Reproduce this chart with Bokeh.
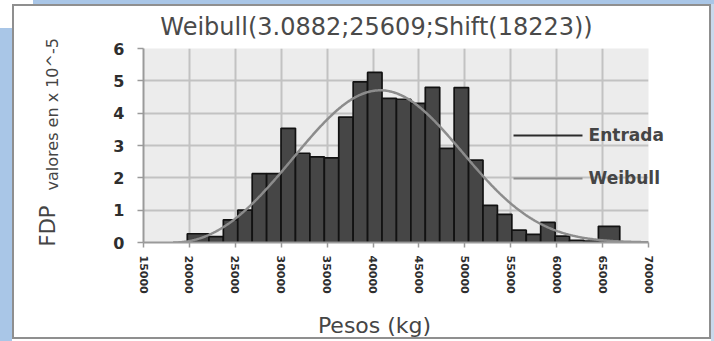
import numpy as np
from bokeh.plotting import figure
from bokeh.models import Range1d, FixedTicker, Label
from bokeh.embed import file_html
from bokeh.resources import INLINE

# Histogram of observed weights: bin edges (kg) and density (x 10^-5)
bin_edges = [19770, 22125, 23696, 25267, 26838, 28409, 29980, 31551, 33122,
             34693, 36264, 37835, 39406, 40977, 42548, 44119, 45690, 47261,
             48832, 50403, 51974, 53545, 55116, 56687, 58258, 59829, 61400,
             62971, 64542, 66870]
density = [0.27, 0.18, 0.70, 1.00, 2.13, 2.13, 3.53, 2.76, 2.65, 2.62,
           3.88, 4.97, 5.26, 4.46, 4.43, 4.30, 4.80, 2.91, 4.79, 2.55,
           1.15, 0.87, 0.38, 0.25, 0.62, 0.20, 0.07, 0.04, 0.50]

# Fitted distribution named in the title: Weibull(shape; scale; Shift(loc))
weibull_shape = 3.0882
weibull_scale = 25609
weibull_shift = 18223

x_ticks = [15000, 20000, 25000, 30000, 35000, 40000, 45000, 50000,
           55000, 60000, 65000, 70000]
x_tick_labels = ["15000", "20000", "25000", "30000", "35000", "40000",
                 "45000", "50000", "55000", "60000", "65000", "70000"]
y_ticks = [0, 1, 2, 3, 4, 5, 6]

title_text = "Weibull(3.0882;25609;Shift(18223))"
x_label = "Pesos (kg)"
y_label_main = "FDP"
y_label_unit = "valores en x 10^-5"
series_names = ["Entrada", "Weibull"]

BLUE = "#a9c6e7"
page_bg = ", ".join([
    "linear-gradient(#ffffff,#ffffff) 14px 6px / 695px 331px no-repeat",
    "linear-gradient(#8f8f8f,#8f8f8f) 12px 4px / 699px 335px no-repeat",
    f"linear-gradient({BLUE},{BLUE}) 33px 0px / 681px 4px no-repeat",
    f"linear-gradient({BLUE},{BLUE}) 0px 28px / 12px 313px no-repeat",
    "linear-gradient(#c9d9ec,#c9d9ec) 711px 0px / 3px 341px no-repeat",
    "#ffffff",
])

p = figure(width=714, height=341, output_backend="svg", toolbar_location=None,
           x_range=Range1d(15000, 70000), y_range=Range1d(0, 6),
           min_border_left=143, min_border_right=66,
           min_border_top=48, min_border_bottom=99,
           styles={"background": page_bg})
p.border_fill_alpha = 0
p.background_fill_color = "#ececec"
p.outline_line_color = None

# grid
for g, t in ((p.xgrid, x_ticks), (p.ygrid, y_ticks)):
    g.ticker = FixedTicker(ticks=t)
    g.grid_line_color = "#c2c2c2"
    g.grid_line_width = 2

# axes
p.xaxis.ticker = FixedTicker(ticks=x_ticks)
p.xaxis.major_label_overrides = dict(zip(x_ticks, x_tick_labels))
p.xaxis.major_label_orientation = "vertical"
p.yaxis.ticker = FixedTicker(ticks=y_ticks)
for ax in (p.xaxis[0], p.yaxis[0]):
    ax.axis_line_color = "#9a9a9a"
    ax.axis_line_width = 2
    ax.major_tick_line_color = "#9a9a9a"
    ax.major_tick_line_width = 1.5
    ax.major_tick_in = 0
    ax.minor_tick_line_color = None
    ax.major_label_text_font = "DejaVu Sans"
    ax.major_label_text_font_style = "bold"
    ax.major_label_text_color = "#2e2e2e"
p.xaxis.major_tick_out = 5
p.xaxis.major_label_standoff = 8
p.xaxis.major_label_text_font_size = "11px"
p.yaxis.major_tick_out = 6
p.yaxis.major_label_standoff = 13
p.yaxis.major_label_text_font_size = "16px"

# histogram bars
p.quad(left=bin_edges[:-1], right=bin_edges[1:], bottom=0, top=density,
       fill_color="#464646", line_color="#121212", line_width=1.7)

# Weibull density curve, scaled to 10^-5
xs = np.linspace(weibull_shift, 70000, 700)
z = (xs - weibull_shift) / weibull_scale
pdf = (weibull_shape / weibull_scale) * z ** (weibull_shape - 1) * np.exp(-z ** weibull_shape)
p.line(xs, pdf * 1e5, line_color="#8c8c8c", line_width=2.5)

# key: line samples inside the plot area, names beside them
# (the names run past the plot edge, so they live in the top/bottom margins)
key_colors = ["#2b2b2b", "#8c8c8c"]
key_rows = [3.31, 1.98]
key_panels = ["above", "below"]
for name, color, ky, side in zip(series_names, key_colors, key_rows, key_panels):
    p.segment(x0=55300, y0=ky, x1=62810, y1=ky, line_color=color, line_width=2.2)
    p.add_layout(Label(x=63470, y=ky, text=name, text_align="left",
                       text_baseline="middle", text_font="DejaVu Sans",
                       text_font_style="bold", text_font_size="17px",
                       text_color="#454545"), side)

# title and axis captions, placed in the margins around the plot area
p.add_layout(Label(x=40380, y=6.66, text=title_text, text_align="center",
                   text_baseline="alphabetic", text_font="DejaVu Sans",
                   text_font_size="24px", text_color="#4a4a4a"), "above")
p.add_layout(Label(x=40160, y=-2.57, text=x_label, text_align="center",
                   text_baseline="alphabetic", text_font="DejaVu Sans",
                   text_font_size="22px", text_color="#454545"), "below")
p.add_layout(Label(x=4550, y=-0.12, text=y_label_main, angle=np.pi / 2,
                   text_align="left", text_baseline="alphabetic",
                   text_font="DejaVu Sans", text_font_size="21px",
                   text_color="#454545"), "left")
p.add_layout(Label(x=5090, y=1.61, text=y_label_unit, angle=np.pi / 2,
                   text_align="left", text_baseline="alphabetic",
                   text_font="DejaVu Sans", text_font_size="16px",
                   text_color="#454545"), "left")

open("out.html", "w").write(file_html(p, INLINE))
